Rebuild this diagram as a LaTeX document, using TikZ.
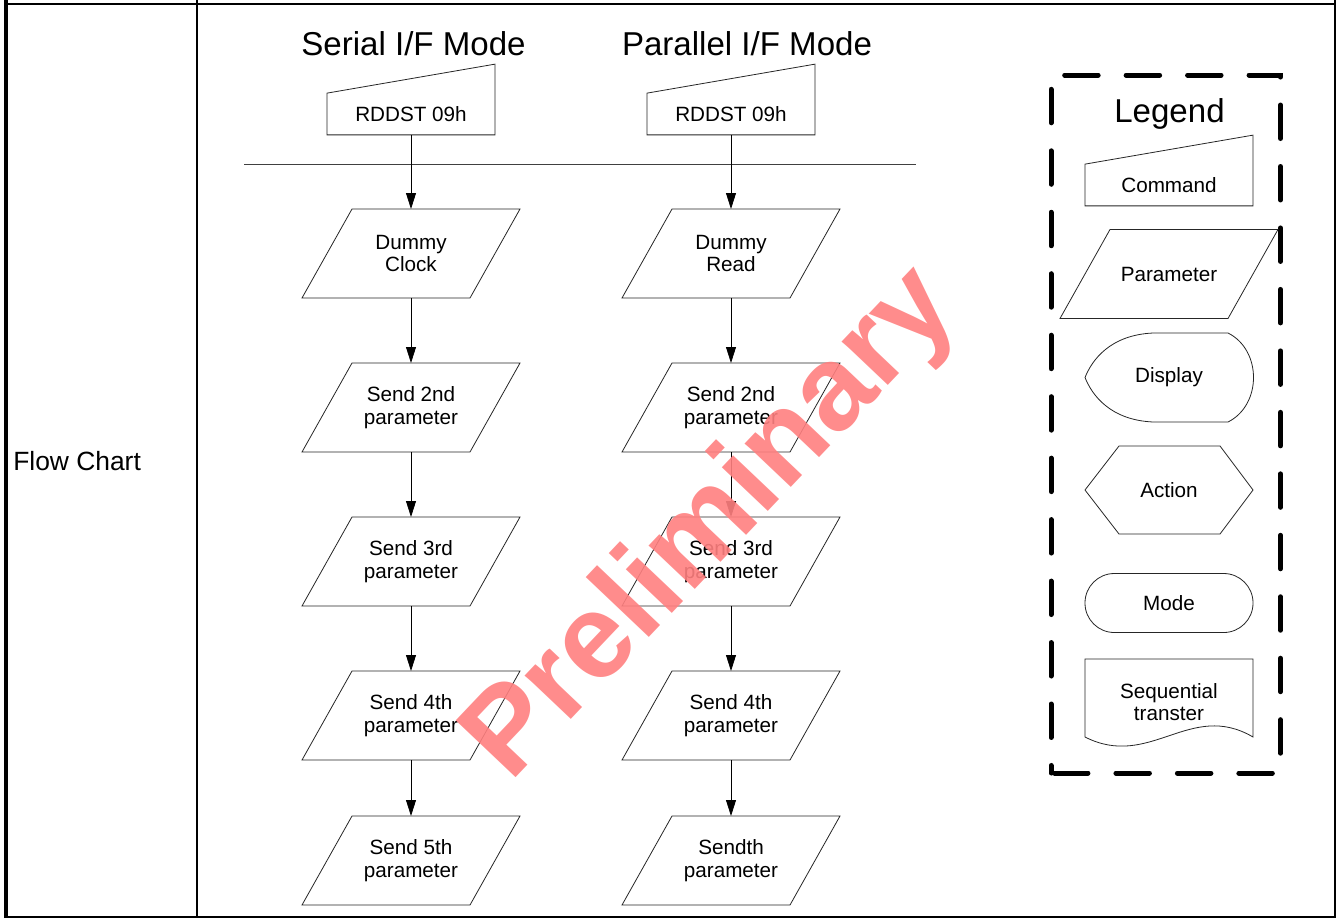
\documentclass[tikz,border=0pt]{standalone}
\usepackage{fontspec}
\setmainfont{Liberation Sans}
\usetikzlibrary{arrows.meta,calc}

\newcommand\shapefont{\fontsize{15.5}{17}\selectfont}
\newcommand\paramshape[1]{\draw[shapeline] ($(#1.south west)+(-25,0)$) -- ($(#1.south east)+(-25,0)$)
  -- ($(#1.north east)+(25,0)$) -- ($(#1.north west)+(25,0)$) -- cycle;}
\tikzset{
  shapeline/.style={draw=black!85,line width=0.6pt},
  cmdbox/.style={minimum width=126pt,minimum height=31.3pt,inner sep=0pt,outer sep=0pt,font=\shapefont},
  param/.style={minimum width=126pt,minimum height=66.75pt,inner sep=0pt,outer sep=0pt,align=center,font=\shapefont},
  modebox/.style={shapeline,rounded corners=22pt,minimum width=126pt,minimum height=44.25pt,font=\shapefont},
  flowarr/.style={-{Triangle[length=12pt,width=7.5pt]},line width=0.6pt},
  title/.style={anchor=base,inner sep=0pt,font=\fontsize{24.8}{28}\selectfont}
}

\begin{document}
\begin{tikzpicture}[x=0.75pt,y=-0.75pt]
  \useasboundingbox (0,0) rectangle (1336,918);

  \draw[line width=3pt] (6,0) -- (6,918);
  \draw[line width=1.6pt] (197,0) -- (197,918);
  \draw[line width=1.7pt] (1335,0) -- (1335,918);
  \draw[line width=1.5pt] (6,3.7) -- (1335,3.7);
  \draw[line width=1.6pt] (6,917) -- (1335,917);
  \node[anchor=west,inner sep=0pt,font=\fontsize{19.8}{22}\selectfont] (rowname) at (13,461) {Flow Chart};

  \node[title] (serTitle) at (413.5,55.5) {Serial I/F Mode};
  \node[title] (parTitle) at (747,55.5) {Parallel I/F Mode};

  \node[cmdbox] (cmdS) at (411,114) {RDDST 09h};
  \node[cmdbox] (cmdP) at (731,114) {RDDST 09h};
  \foreach \c in {cmdS,cmdP}
    \draw[shapeline] (\c.south west) -- (\c.north west) -- ($(\c.north east)+(0,-29)$) -- (\c.south east) -- cycle;

  \coordinate (sepL) at (244,164);
  \coordinate (sepR) at (916,164);
  \draw[draw=black!75,line width=0.75pt] (sepL) -- (sepR);

  \node[param] (dumS) at (411,253.5) {Dummy\\Clock};
  \node[param] (parS2) at (411,407.5) {Send 2nd\\parameter};
  \node[param] (parS3) at (411,561.5) {Send 3rd\\parameter};
  \node[param] (parS4) at (411,715.5) {Send 4th\\parameter};
  \node[param] (parS5) at (411,860.5) {Send 5th\\parameter};

  \node[param] (dumP) at (731,253.5) {Dummy\\Read};
  \node[param] (parP2) at (731,407.5) {Send 2nd\\parameter};
  \node[param] (parP3) at (731,561.5) {Send 3rd\\parameter};
  \node[param] (parP4) at (731,715.5) {Send 4th\\parameter};
  \node[param] (parP5) at (731,860.5) {Sendth\\parameter};

  \foreach \n in {dumS,parS2,parS3,parS4,parS5,dumP,parP2,parP3,parP4,parP5}
    {\paramshape{\n}}

  \foreach \a/\b in {cmdS/dumS,dumS/parS2,parS2/parS3,parS3/parS4,parS4/parS5,
                     cmdP/dumP,dumP/parP2,parP2/parP3,parP3/parP4,parP4/parP5}
    \draw[flowarr] (\a) -- (\b);

  \draw[line width=3.75pt,line cap=round,dash pattern=on 25.1pt off 21pt,dash phase=43.5pt]
    (1051,773) -- (1280.5,773) -- (1280.5,75) -- (1051,75) -- cycle;
  \node[title] (lgTitle) at (1169.5,122) {Legend};

  \node[cmdbox] (lgCmd) at (1169,185) {Command};
  \draw[shapeline] (lgCmd.south west) -- (lgCmd.north west) -- ($(lgCmd.north east)+(0,-29)$) -- (lgCmd.south east) -- cycle;

  \node[param] (lgPar) at (1169,274) {Parameter};
  \paramshape{lgPar}

  \node[font=\shapefont] (lgDisp) at (1169,377.5) {Display};
  \draw[shapeline,shift={(lgDisp.center)}] (59,-44.5) -- (-16,-44.5) .. controls (-59,-42.5) and (-77,-17.5) .. (-84,0)
    .. controls (-77,17.5) and (-59,42.5) .. (-16,44.5) -- (59,44.5) .. controls (93,27.5) and (93,-27.5) .. (59,-44.5) -- cycle;

  \node[font=\shapefont] (lgAct) at (1169,490) {Action};
  \draw[shapeline,shift={(lgAct.center)}] (-84,0) -- (-50,-44) -- (51,-44) -- (84,0) -- (51,44) -- (-50,44) -- cycle;

  \node[modebox] (lgMode) at (1169,603) {Mode};

  \node[font=\shapefont,align=center] (lgSeq) at (1169,702) {Sequential\\transter};
  \draw[shapeline,shift={(lgSeq.center)}] (-84,35) -- (-84,-43) -- (84,-43) -- (84,35)
    .. controls (21,-2) and (-19,68) .. (-84,35) -- cycle;

  \node[rotate=46.5,anchor=base west,inner sep=0pt,text=red!50,opacity=0.9,font=\bfseries\fontsize{90}{90}\selectfont] (wmark) at (510,784) {Preliminary};
\end{tikzpicture}
\end{document}
